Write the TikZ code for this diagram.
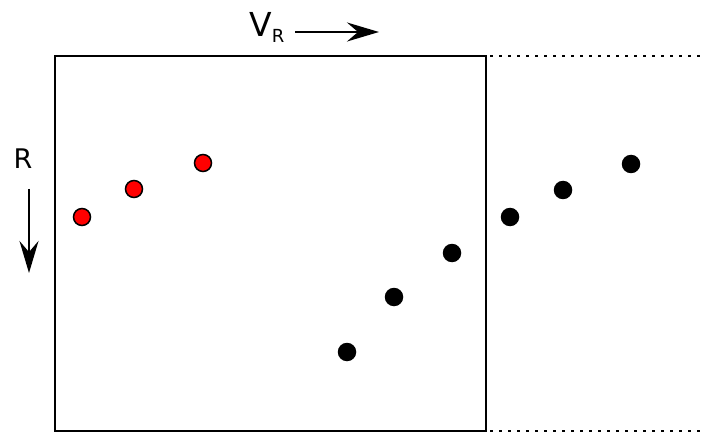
\documentclass[tikz,border=0pt]{standalone}
\usepackage{fontspec}
\setmainfont{DejaVu Sans}
\usetikzlibrary{arrows.meta}
\begin{document}
\begin{tikzpicture}[x=1pt,y=-1pt,
  reddot/.style={circle,draw=black,fill=red,line width=1.5pt,minimum size=17pt,inner sep=0pt},
  blackdot/.style={circle,fill=black,minimum size=18.5pt,inner sep=0pt},
  arr/.style={line width=2.2pt,-{Stealth[length=32pt,width=19pt,inset=11pt]}},
  dots/.style={line width=2.8pt,dash pattern=on 2.8pt off 6.2pt}]
\useasboundingbox (0,0) rectangle (702,433);
\draw[line width=2.8pt] (55,56) rectangle (486,431);
\coordinate (dt1) at (490,56); \coordinate (dt2) at (702,56);
\coordinate (db1) at (490,431); \coordinate (db2) at (702,431);
\draw[dots] (dt1) -- (dt2);
\draw[dots] (db1) -- (db2);
\node[anchor=base west,inner sep=0pt] (vr) at (249,37) {\fontsize{33}{33}\selectfont V\raisebox{-6pt}{\fontsize{18}{18}\selectfont R}};
\coordinate (va) at (295,32); \coordinate (vb) at (379,32);
\draw[arr] (va) -- (vb);
\node[anchor=base,inner sep=0pt] (rl) at (23,168) {\fontsize{27}{27}\selectfont R};
\coordinate (ra) at (29,189); \coordinate (rb) at (29,273);
\draw[arr] (ra) -- (rb);
\node[reddot] (r1) at (82,217) {};
\node[reddot] (r2) at (134,189) {};
\node[reddot] (r3) at (203,163) {};
\node[blackdot] (b1) at (347,352) {};
\node[blackdot] (b2) at (394,297) {};
\node[blackdot] (b3) at (452,253) {};
\node[blackdot] (b4) at (510,217) {};
\node[blackdot] (b5) at (563,190) {};
\node[blackdot] (b6) at (631,164) {};
\end{tikzpicture}
\end{document}
